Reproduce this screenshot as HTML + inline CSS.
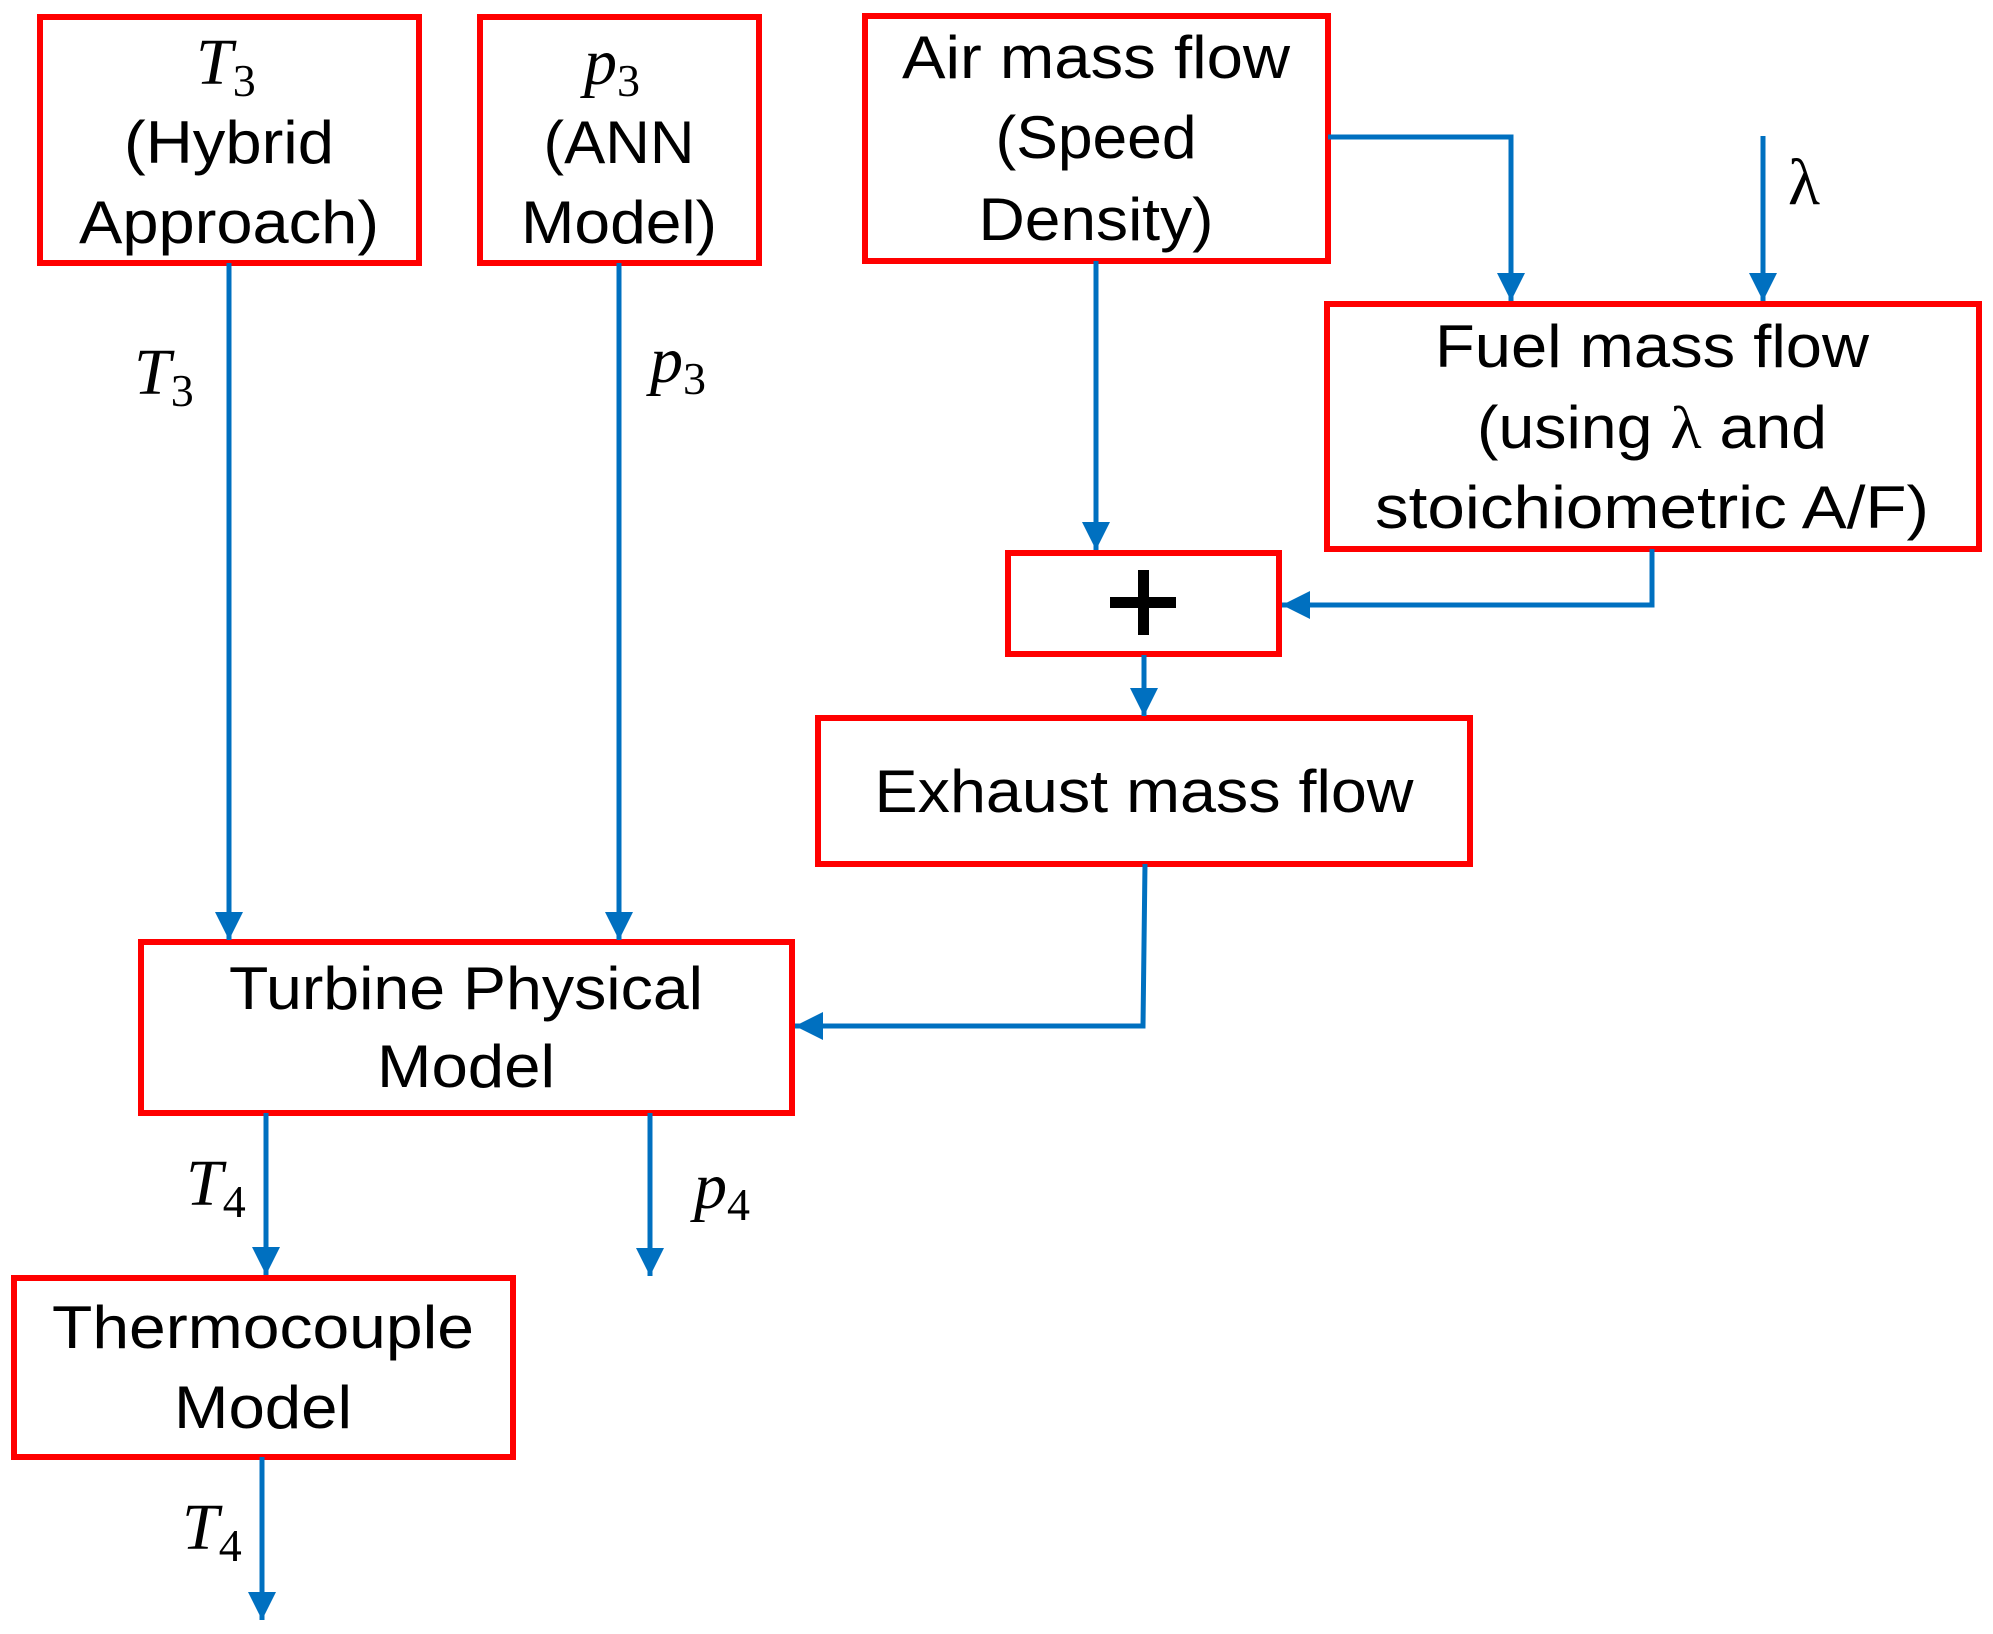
<!DOCTYPE html>
<html><head><meta charset="utf-8"><style>html,body{margin:0;padding:0;background:#fff}svg{display:block}</style></head>
<body>
<svg width="1993" height="1634" viewBox="0 0 1993 1634" xmlns="http://www.w3.org/2000/svg">
<defs>
<marker id="a" markerWidth="28" markerHeight="28" refX="28" refY="14" orient="auto" markerUnits="userSpaceOnUse">
<path d="M0,0 L28,14 L0,28 Z" fill="#0070C0"/></marker>
</defs>
<g fill="none" stroke="#FF0000" stroke-width="6">
<rect x="40" y="17" width="379" height="246"/>
<rect x="480" y="17" width="279" height="246"/>
<rect x="865" y="16" width="463" height="245"/>
<rect x="1327" y="304" width="652" height="245"/>
<rect x="1008" y="553" width="271" height="101"/>
<rect x="818" y="718" width="652" height="146"/>
<rect x="141" y="942" width="651" height="171"/>
<rect x="14" y="1278" width="499" height="179"/>
</g>
<g fill="none" stroke="#0070C0" stroke-width="5" stroke-linejoin="miter">
<path d="M229,263 V940" marker-end="url(#a)"/>
<path d="M619,263 V940" marker-end="url(#a)"/>
<path d="M1096,261 V550" marker-end="url(#a)"/>
<path d="M1328,137 H1511 V301" marker-end="url(#a)"/>
<path d="M1763,136 V301" marker-end="url(#a)"/>
<path d="M1652,549 V605 H1282" marker-end="url(#a)"/>
<path d="M1144,655 V716" marker-end="url(#a)"/>
<path d="M1145,864 L1143,1026 H795" marker-end="url(#a)"/>
<path d="M266,1113 V1275" marker-end="url(#a)"/>
<path d="M650,1113 V1276" marker-end="url(#a)"/>
<path d="M262,1457 V1620" marker-end="url(#a)"/>
</g>
<g font-family="Liberation Sans, sans-serif" font-size="60" fill="#000" text-anchor="middle">
<text x="229" y="163" textLength="210" lengthAdjust="spacingAndGlyphs">(Hybrid</text>
<text x="229" y="243" textLength="300" lengthAdjust="spacingAndGlyphs">Approach)</text>
<text x="619" y="163" textLength="151" lengthAdjust="spacingAndGlyphs">(ANN</text>
<text x="619" y="243" textLength="196" lengthAdjust="spacingAndGlyphs">Model)</text>
<text x="1096" y="78" textLength="388" lengthAdjust="spacingAndGlyphs">Air mass flow</text>
<text x="1096" y="158" textLength="201" lengthAdjust="spacingAndGlyphs">(Speed</text>
<text x="1096" y="240" textLength="235" lengthAdjust="spacingAndGlyphs">Density)</text>
<text x="1652" y="367" textLength="434" lengthAdjust="spacingAndGlyphs">Fuel mass flow</text>
<text x="1652" y="448" textLength="350" lengthAdjust="spacingAndGlyphs">(using <tspan font-family="Liberation Serif, serif">λ</tspan> and</text>
<text x="1652" y="528" textLength="554" lengthAdjust="spacingAndGlyphs">stoichiometric A/F)</text>
<text x="1144" y="812" textLength="539" lengthAdjust="spacingAndGlyphs">Exhaust mass flow</text>
<text x="466" y="1009" textLength="474" lengthAdjust="spacingAndGlyphs">Turbine Physical</text>
<text x="466" y="1087" textLength="178" lengthAdjust="spacingAndGlyphs">Model</text>
<text x="263" y="1348" textLength="422" lengthAdjust="spacingAndGlyphs">Thermocouple</text>
<text x="263" y="1428" textLength="178" lengthAdjust="spacingAndGlyphs">Model</text>
</g>
<g fill="#000"><rect x="1110" y="597" width="66" height="11"/><rect x="1138" y="570" width="11" height="65"/></g>
<g font-family="Liberation Serif, serif" font-style="italic" font-size="66" fill="#000">
<text x="196" y="84">T<tspan font-size="46" font-style="normal" dy="12">3</tspan></text>
<text x="584" y="84">p<tspan font-size="46" font-style="normal" dy="12">3</tspan></text>
<text x="134" y="394">T<tspan font-size="46" font-style="normal" dy="12">3</tspan></text>
<text x="650" y="382">p<tspan font-size="46" font-style="normal" dy="12">3</tspan></text>
<text x="186" y="1205">T<tspan font-size="46" font-style="normal" dy="12">4</tspan></text>
<text x="694" y="1208">p<tspan font-size="46" font-style="normal" dy="12">4</tspan></text>
<text x="182" y="1549">T<tspan font-size="46" font-style="normal" dy="12">4</tspan></text>
<text x="1788" y="204" font-style="normal">λ</text>
</g>
</svg>
</body></html>
